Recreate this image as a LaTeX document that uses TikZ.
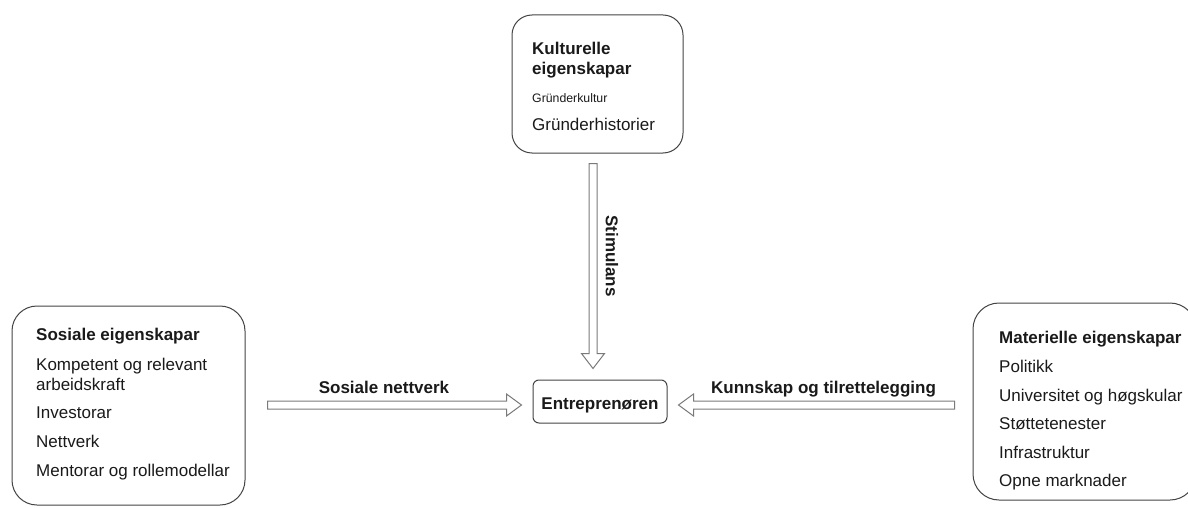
\documentclass[tikz,border=0pt]{standalone}
\usepackage{fontspec}
\setmainfont{Liberation Sans}
\usetikzlibrary{calc}
\definecolor{txtc}{HTML}{1A1A1A}
\definecolor{boxc}{HTML}{444444}
\definecolor{arrc}{HTML}{7A7A7A}
\begin{document}
\begin{tikzpicture}[x=1pt,y=-1pt,
  boxshape/.style={draw=boxc,line width=1pt,rectangle,inner sep=0pt,fill=white},
  txt/.style={inner sep=0pt,anchor=base west,text=txtc,font=\fontsize{17}{20}\selectfont},
  hd/.style={txt,font=\fontsize{17}{20}\selectfont\bfseries},
  small/.style={txt,font=\fontsize{12.3}{14}\selectfont},
  lbl/.style={inner sep=0pt,text=txtc,font=\fontsize{17}{20}\selectfont\bfseries},
  hollow/.style={draw=arrc,line width=1pt,fill=white,line join=miter}]
\path[use as bounding box,clip] (0,0) rectangle (1188,508);
\fill[white] (0,0) rectangle (1188,508);

% boxes
\node[boxshape,rounded corners=20pt,minimum width=171pt,minimum height=138pt] (kult) at (597.5,84) {};
\node[boxshape,rounded corners=25pt,minimum width=233pt,minimum height=199pt] (soc) at (128.5,405.5) {};
\node[boxshape,rounded corners=26pt,minimum width=223pt,minimum height=197pt] (mat) at (1084.5,401.5) {};
\node[boxshape,rounded corners=6pt,minimum width=134pt,minimum height=43pt] (ent) at (600,401.5) {};
\node[lbl,anchor=base] (entlbl) at ($(ent.center)+(0,7.5)$) {Entrepren\o ren};

% top box text
\node[hd] (k1) at (532,55) {Kulturelle};
\node[hd] (k2) at (532,75) {eigenskapar};
\node[small] (k3) at (532,103) {Gr\"underkultur};
\node[txt] (k4) at (532,131) {Gr\"underhistorier};

% left box text
\node[hd] (s1) at (36,340) {Sosiale eigenskapar};
\node[txt] (s2) at (36,370) {Kompetent og relevant};
\node[txt] (s3) at (36,390) {arbeidskraft};
\node[txt] (s4) at (36,418) {Investorar};
\node[txt] (s5) at (36,447) {Nettverk};
\node[txt] (s6) at (36,476) {Mentorar og rollemodellar};

% right box text
\node[hd] (m1) at (999,343) {Materielle eigenskapar};
\node[txt] (m2) at (999,372) {Politikk};
\node[txt] (m3) at (999,401) {Universitet og h\o gskular};
\node[txt] (m4) at (999,429) {St\o ttetenester};
\node[txt] (m5) at (999,458) {Infrastruktur};
\node[txt] (m6) at (999,486) {Opne marknader};

% arrow end points
\coordinate (vs) at ($(kult.south)+(-4.5,10)$);
\coordinate (ve) at ($(ent.north)+(-7,-11)$);
\coordinate (ls) at ($(soc.east)+(22,-0.5)$);
\coordinate (le) at ($(ent.west)+(-11,3.5)$);
\coordinate (rs) at ($(mat.west)+(-18,3.5)$);
\coordinate (re) at ($(ent.east)+(11,3.5)$);

% hollow arrows
\draw[hollow] ($(vs)+(-4,0)$) -- ($(ve)+(-4,-15)$) -- ++(-7.5,0) -- (ve)
  -- ($(ve)+(11.5,-15)$) -- ++(-7.5,0) -- ($(vs)+(4,0)$) -- cycle;
\draw[hollow] ($(ls)+(0,-4)$) -- ($(le)+(-15,-4)$) -- ++(0,-7) -- (le)
  -- ($(le)+(-15,11)$) -- ++(0,-7) -- ($(ls)+(0,4)$) -- cycle;
\draw[hollow] ($(rs)+(0,-4)$) -- ($(re)+(15,-4)$) -- ++(0,-7) -- (re)
  -- ($(re)+(15,11)$) -- ++(0,-7) -- ($(rs)+(0,4)$) -- cycle;

% arrow labels
\node[lbl,rotate=-90] (stim) at (612,256) {Stimulans};
\node[lbl,anchor=base] (snl) at (384,393) {Sosiale nettverk};
\node[lbl,anchor=base] (ktl) at (823.5,393) {Kunnskap og tilrettelegging};
\end{tikzpicture}
\end{document}
